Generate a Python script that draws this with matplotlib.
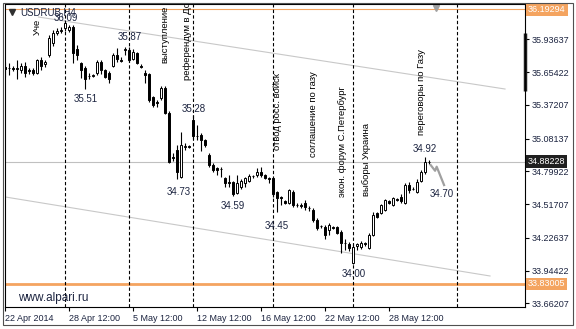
import numpy as np
import matplotlib.pyplot as plt
import matplotlib.transforms as mtransforms
from matplotlib.patches import Rectangle

plt.rcParams['font.family'] = ['Liberation Sans', 'DejaVu Sans']

# USDRUB H4 candles (bar index = position on the chart)
opens = [35.70, 35.69, 35.69, 35.68, 35.67, 35.71, 35.67, 35.67, 35.65, 35.76,
         35.72, 35.80, 35.90, 35.99, 36.01, 36.03, 36.02, 36.04, 35.85, 35.73,
         35.69, 35.62, 35.62, 35.65, 35.74, 35.67, 35.65, 35.71, 35.80, 35.76,
         35.84, 35.84, 35.77, 35.82, 35.71, 35.65, 35.64, 35.44, 35.40, 35.43,
         35.52, 35.30, 34.92, 34.98, 34.75, 35.01, 35.02, 35.24, 35.10, 35.11,
         35.07, 34.94, 34.85, 34.83, 34.82, 34.74, 34.71, 34.71, 34.61, 34.66,
         34.70, 34.72, 34.76, 34.77, 34.79, 34.77, 34.74, 34.74, 34.62, 34.58,
         34.54, 34.53, 34.62, 34.51, 34.51, 34.53, 34.48, 34.47, 34.38, 34.33,
         34.32, 34.29, 34.32, 34.32, 34.28, 34.18, 34.17, 34.01, 34.16, 34.15,
         34.18, 34.14, 34.25, 34.44, 34.44, 34.47, 34.54, 34.51, 34.56, 34.58,
         34.53, 34.68, 34.65, 34.62, 34.72, 34.79, 34.88]
highs = [35.74, 35.73, 35.71, 35.76, 35.73, 35.74, 35.69, 35.69, 35.77, 35.78,
         35.76, 35.97, 36.02, 36.03, 36.04, 36.09, 36.06, 36.06, 35.89, 35.74,
         35.71, 35.65, 35.64, 35.76, 35.76, 35.68, 35.66, 35.82, 35.86, 35.78,
         35.87, 35.87, 35.85, 35.83, 35.72, 35.67, 35.65, 35.45, 35.41, 35.53,
         35.53, 35.32, 34.96, 35.03, 35.14, 35.04, 35.03, 35.28, 35.20, 35.13,
         35.08, 34.96, 34.87, 34.84, 34.84, 34.75, 34.77, 34.72, 34.77, 34.73,
         34.75, 34.78, 34.77, 34.83, 34.84, 34.78, 34.75, 34.75, 34.63, 34.59,
         34.55, 34.65, 34.64, 34.53, 34.53, 34.55, 34.50, 34.48, 34.40, 34.34,
         34.34, 34.35, 34.33, 34.33, 34.29, 34.22, 34.19, 34.17, 34.18, 34.20,
         34.19, 34.27, 34.45, 34.45, 34.52, 34.56, 34.55, 34.58, 34.57, 34.60,
         34.70, 34.71, 34.66, 34.73, 34.81, 34.92, 34.90]
lows = [35.61, 35.63, 35.66, 35.59, 35.65, 35.61, 35.64, 35.63, 35.64, 35.67,
        35.70, 35.78, 35.88, 35.97, 35.99, 36.01, 36.00, 35.73, 35.76, 35.60,
        35.51, 35.59, 35.61, 35.63, 35.64, 35.60, 35.56, 35.70, 35.74, 35.74,
        35.80, 35.74, 35.76, 35.72, 35.69, 35.56, 35.40, 35.35, 35.35, 35.41,
        35.29, 34.87, 34.89, 34.73, 34.74, 34.98, 35.00, 35.08, 35.07, 34.97,
        35.01, 34.84, 34.79, 34.77, 34.75, 34.66, 34.66, 34.59, 34.60, 34.65,
        34.66, 34.71, 34.74, 34.75, 34.75, 34.73, 34.70, 34.58, 34.45, 34.51,
        34.52, 34.52, 34.49, 34.49, 34.48, 34.47, 34.46, 34.36, 34.29, 34.31,
        34.22, 34.25, 34.30, 34.26, 34.10, 34.12, 34.11, 34.00, 34.12, 34.13,
        34.16, 34.13, 34.24, 34.40, 34.43, 34.46, 34.52, 34.50, 34.54, 34.53,
        34.52, 34.61, 34.64, 34.61, 34.71, 34.78, 34.86]
closes = [35.68, 35.69, 35.68, 35.69, 35.71, 35.65, 35.66, 35.65, 35.76, 35.71,
          35.74, 35.95, 35.99, 36.01, 36.02, 36.08, 36.04, 35.82, 35.80, 35.67,
          35.59, 35.62, 35.63, 35.74, 35.67, 35.61, 35.59, 35.80, 35.77, 35.75,
          35.85, 35.76, 35.83, 35.73, 35.70, 35.63, 35.41, 35.37, 35.39, 35.52,
          35.30, 34.88, 34.91, 34.79, 35.03, 35.02, 35.01, 35.10, 35.10, 35.07,
          35.03, 34.85, 34.81, 34.81, 34.82, 34.70, 34.70, 34.60, 34.70, 34.72,
          34.74, 34.76, 34.76, 34.79, 34.77, 34.74, 34.73, 34.60, 34.57, 34.57,
          34.53, 34.64, 34.51, 34.51, 34.50, 34.49, 34.48, 34.38, 34.31, 34.33,
          34.25, 34.34, 34.31, 34.27, 34.18, 34.18, 34.14, 34.15, 34.17, 34.18,
          34.17, 34.25, 34.42, 34.41, 34.51, 34.55, 34.53, 34.57, 34.55, 34.54,
          34.68, 34.64, 34.65, 34.71, 34.79, 34.88, 34.88]

time_labels = ["22 Apr 2014", "28 Apr 12:00", "5 May 12:00", "12 May 12:00",
               "16 May 12:00", "22 May 12:00", "28 May 12:00"]
price_ticks = [35.93637, 35.65422, 35.37207, 35.08137, 34.79922,
               34.51707, 34.22637, 33.94422, 33.66207]

level_top = 36.19294
level_bottom = 33.83005
last_price = 34.88228

event_bars = [15, 31, 47, 67, 87, 113]
event_texts = ["Уче", "выступление", "референдум в Донецке", "отвод росс. войск",
               "соглашение по газу", "экон. форум С.Петербург", "выборы Украина",
               "переговоры по Газу"]
event_text_bar = [8, 40, 45.5, 68, 77, 84.25, 90.25, 104]
event_text_price = [35.97, 35.73, 35.585, 34.98, 34.92, 34.58, 34.59, 35.11]

mark_texts = ["36.09", "35.87", "35.51", "35.28", "34.73", "34.59", "34.45",
              "34.00", "34.92", "34.70"]
mark_bar = [15, 31, 20, 47, 43.25, 57, 68, 87.1, 105, 109.1]
mark_price = [36.12, 35.96, 35.42, 35.34, 34.62, 34.50, 34.33, 33.915, 34.99, 34.60]

channel_up_bar, channel_up_price = [8.25, 125], [36.128, 35.508]
channel_dn_bar, channel_dn_price = [0, 121.25], [34.578, 33.898]
forecast_bar = [106.4, 107.5, 107.9, 109.75]
forecast_price = [34.853, 34.804, 34.839, 34.681]

W, H = 576, 329
fig = plt.figure(figsize=(W / 100, H / 100), dpi=100)
ax = fig.add_axes([5 / W, 1 - 307 / H, 520 / W, 303 / H])
ax.set_xlim(-0.125, 130)
ax.set_ylim(33.631, 36.240)

orange = '#F4A460'
ink = '#1c2440'

# levels and channel
ax.axhline(level_top, color=orange, lw=0.8, zorder=1)
ax.axhline(level_bottom, color=orange, lw=2, zorder=1)
ax.axhline(last_price, color='#C0C0C0', lw=0.8, zorder=1)
ax.plot(channel_up_bar, channel_up_price, color='#C8C8C8', lw=0.8, zorder=1)
ax.plot(channel_dn_bar, channel_dn_price, color='#C8C8C8', lw=0.8, zorder=1)

for b in event_bars:
    ax.axvline(b, color='black', lw=0.8, ls=(0, (3, 2)), zorder=1.5)

# candles
for i, (o, h, l, c) in enumerate(zip(opens, highs, lows, closes)):
    ax.vlines(i, l, h, color='black', lw=0.8, zorder=2)
    fc = 'white' if c > o else 'black'
    ax.add_patch(Rectangle((i - 0.25, min(o, c)), 0.5, abs(c - o),
                           fc=fc, ec='black', lw=0.7, zorder=3))

ax.plot(forecast_bar, forecast_price, color='#A0A0A0', lw=1.6, zorder=4)

for t, b, p in zip(event_texts, event_text_bar, event_text_price):
    ax.text(b, p, t, rotation=90, ha='center', va='bottom', fontsize=6.8,
            color='black', clip_on=True, zorder=5)

for t, b, p in zip(mark_texts, mark_bar, mark_price):
    ax.text(b, p, t, ha='center', va='center', fontsize=7, color=ink, zorder=5)

# axes
for s in ax.spines.values():
    s.set_linewidth(0.8)
    s.set_color('black')
ax.yaxis.tick_right()
ax.set_yticks(price_ticks)
ax.set_yticklabels(['%.5f' % v for v in price_ticks])
ax.set_xticks(np.arange(0, 16 * len(time_labels), 16))
ax.set_xticklabels(time_labels)
for lbl in ax.get_xticklabels():
    lbl.set_horizontalalignment('left')
ax.tick_params(axis='both', length=3, width=0.8, labelsize=6.5, pad=2,
               colors='black', labelcolor=ink)

tr = mtransforms.blended_transform_factory(ax.transAxes, ax.transData)
box = dict(boxstyle='square,pad=0.2', ec='none')
ax.text(1.006, level_top, '%.5f' % level_top, transform=tr, va='center', ha='left',
        fontsize=6.5, color='white', bbox=dict(box, fc=orange), clip_on=False)
ax.text(1.006, level_bottom, '%.5f' % level_bottom, transform=tr, va='center', ha='left',
        fontsize=6.5, color='white', bbox=dict(box, fc=orange), clip_on=False)
ax.text(1.006, last_price, '%.5f' % last_price, transform=tr, va='center', ha='left',
        fontsize=6.5, color='white', bbox=dict(box, fc='#202020'), clip_on=False)

# thick scale bar and shift marker
ax.plot([1.0, 1.0], [0.713, 0.904], transform=ax.transAxes, color='#202020',
        lw=2.5, clip_on=False, solid_capstyle='butt')
ax.plot([0.829], [0.988], transform=ax.transAxes, marker='v', ms=5,
        color='#A0A0A0', clip_on=False)

# title, watermark, frame
ax.plot([12 / W], [1 - 12 / H], transform=fig.transFigure, marker='v', ms=4,
        color='#303030', clip_on=False)
fig.text(20 / W, 1 - 12.5 / H, 'USDRUB,H4', fontsize=7, color=ink, va='center')
fig.text(18 / W, 1 - 298 / H, 'www.alpari.ru', fontsize=8.5, color=ink, va='center')
fig.patches.append(Rectangle((3 / W, 1 - 325 / H), 570 / W, 322 / H,
                             transform=fig.transFigure, fill=False,
                             ec='#505050', lw=0.8))

fig.savefig('out.png', dpi=100)
